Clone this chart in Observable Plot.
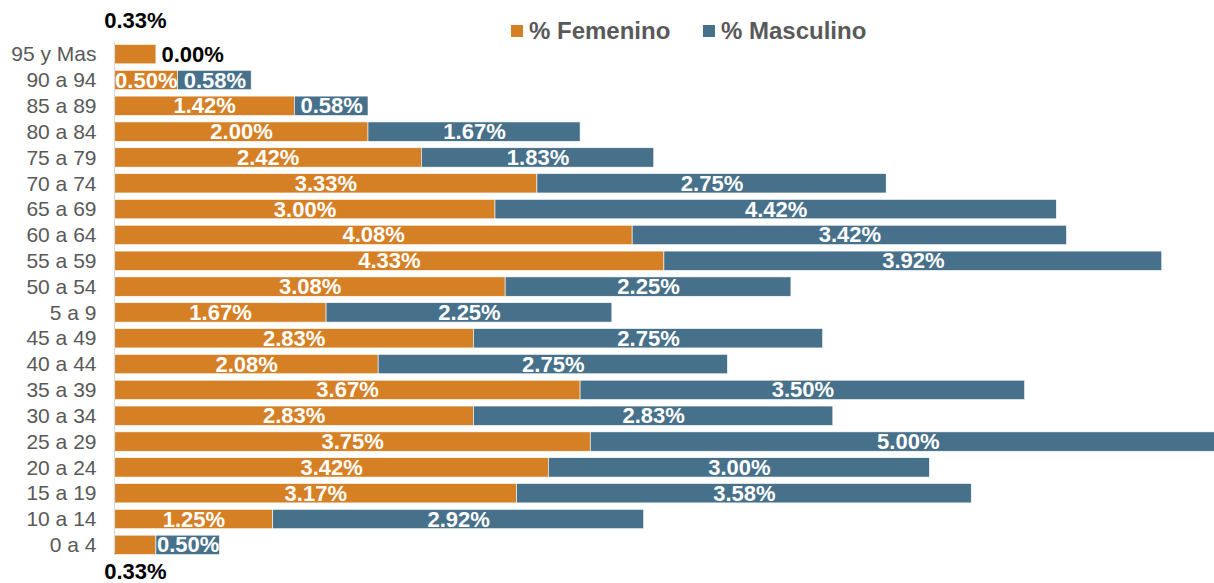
<!DOCTYPE html>
<html>
<head>
<meta charset="utf-8">
<script src="https://cdn.jsdelivr.net/npm/d3@7"></script>
<script src="https://cdn.jsdelivr.net/npm/@observablehq/plot@0.6"></script>
<style>
  html, body { margin: 0; padding: 0; background: white; overflow: hidden; }
  #wrap { position: relative; width: 1214px; height: 583px; }
  .leg { position: absolute; top: 17px; font-family: "Liberation Sans", Arial, sans-serif; font-weight: bold; font-size: 24px; color: #595959; display: flex; align-items: center; }
  .sw { width: 12px; height: 12px; margin-right: 6px; display: inline-block; }
</style>
</head>
<body>
<div id="wrap">
  <div id="chart"></div>
</div>
<script>
const ages = ["95 y Mas","90 a 94","85 a 89","80 a 84","75 a 79","70 a 74","65 a 69","60 a 64","55 a 59","50 a 54","5 a 9","45 a 49","40 a 44","35 a 39","30 a 34","25 a 29","20 a 24","15 a 19","10 a 14","0 a 4"];
const femenino = [0.33,0.50,1.42,2.00,2.42,3.33,3.00,4.08,4.33,3.08,1.67,2.83,2.08,3.67,2.83,3.75,3.42,3.17,1.25,0.33];
const masculino = [0.00,0.58,0.58,1.67,1.83,2.75,4.42,3.42,3.92,2.25,2.25,2.75,2.75,3.50,2.83,5.00,3.00,3.58,2.92,0.50];
const series = ["% Femenino", "% Masculino"];
const colors = ["#D68026", "#47708A"];

const data = [];
ages.forEach((a, i) => {
  data.push({age: a, sex: series[0], value: femenino[i]});
  data.push({age: a, sex: series[1], value: masculino[i]});
});
const fmt = v => v.toFixed(2) + "%";
const isTop = d => d.age === ages[0] && d.sex === series[0];
const isTopM = d => d.age === ages[0] && d.sex === series[1];
const isBot = d => d.age === ages[ages.length - 1] && d.sex === series[0];
const special = d => isTop(d) || isTopM(d) || isBot(d);

const chart = Plot.plot({
  width: 1214,
  height: 583,
  marginLeft: 114,
  marginRight: 0,
  marginTop: 38,
  marginBottom: 22,
  style: {fontFamily: "'Liberation Sans', Arial, sans-serif", fontSize: "21px", color: "#595959", background: "white"},
  x: {domain: [0, 1100 / 127], axis: null},
  y: {domain: ages, padding: 0.25, round: false, tickSize: 0, tickPadding: 18, label: null},
  color: {domain: series, range: colors},
  marks: [
    Plot.barX(data, {x: "value", y: "age", fill: "sex", stroke: "white", strokeWidth: 0.6, clip: true}),
    Plot.ruleX([0], {stroke: "#d9d9d9", strokeWidth: 1.2, insetTop: 4, insetBottom: 8}),
    Plot.text(data, Plot.stackX({x: "value", y: "age", text: d => special(d) ? "" : fmt(d.value), fill: "white", fontWeight: "bold", fontSize: 22})),
    Plot.text(data, Plot.stackX({x: "value", y: "age", text: d => isTop(d) ? fmt(d.value) : "", fill: "black", fontWeight: "bold", fontSize: 22, dy: -34})),
    Plot.text(data, Plot.stackX({x: "value", y: "age", text: d => isBot(d) ? fmt(d.value) : "", fill: "black", fontWeight: "bold", fontSize: 22, dy: 27})),
    Plot.text(data, Plot.stackX({x: "value", y: "age", text: d => isTopM(d) ? fmt(d.value) : "", fill: "black", fontWeight: "bold", fontSize: 22, textAnchor: "start", dx: 5}))
  ]
});
document.getElementById("chart").appendChild(chart);

const wrap = document.getElementById("wrap");
const legLeft = [511, 703];
series.forEach((s, i) => {
  const div = document.createElement("div");
  div.className = "leg";
  div.style.left = legLeft[i] + "px";
  const sw = document.createElement("span");
  sw.className = "sw";
  sw.style.background = colors[i];
  div.appendChild(sw);
  div.appendChild(document.createTextNode(s));
  wrap.appendChild(div);
});
</script>
</body>
</html>
